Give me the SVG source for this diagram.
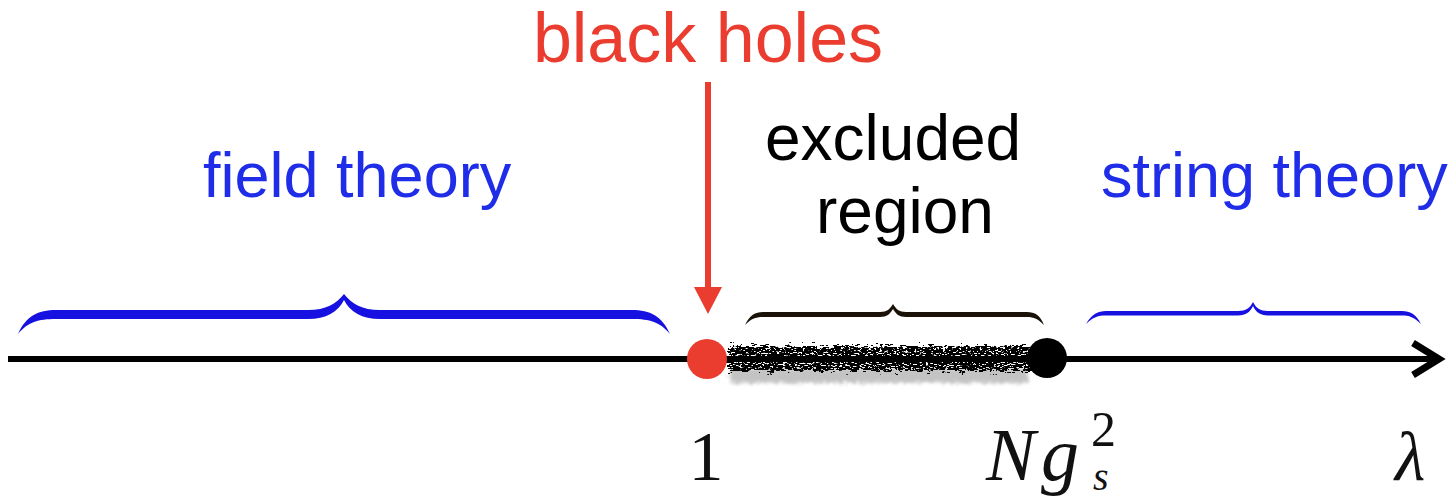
<svg xmlns="http://www.w3.org/2000/svg" width="1456" height="501" viewBox="0 0 1456 501">
<style>
.sans{font-family:"Liberation Sans","Helvetica Neue",Arial,sans-serif;}
.math{font-family:"Liberation Serif","Times New Roman",serif;fill:#111;}
.blue{fill:#1f2de8;}
.red{fill:#ea3d30;}
</style>
<defs>
<filter id="grit" x="-5%" y="-60%" width="110%" height="220%">
<feTurbulence type="fractalNoise" baseFrequency="0.12 0.5" numOctaves="3" seed="7" result="noise"/>
<feDisplacementMap in="SourceGraphic" in2="noise" scale="14" xChannelSelector="R" yChannelSelector="G" result="disp"/>
<feTurbulence type="fractalNoise" baseFrequency="0.35 0.9" numOctaves="2" seed="11" result="n2"/>
<feColorMatrix in="n2" type="matrix" values="0 0 0 0 1  0 0 0 0 1  0 0 0 0 1  0 0 0 14 -8.0" result="holes"/>
<feComposite in="disp" in2="holes" operator="out"/>
</filter>
<filter id="haze" x="-5%" y="-100%" width="110%" height="300%">
<feTurbulence type="fractalNoise" baseFrequency="0.3 0.7" numOctaves="2" seed="3" result="n"/>
<feDisplacementMap in="SourceGraphic" in2="n" scale="10" xChannelSelector="R" yChannelSelector="G" result="d"/>
<feGaussianBlur in="d" stdDeviation="1.5"/>
</filter>
</defs>

<g id="connectors">
<line x1="8" y1="359" x2="1436" y2="359" stroke="#000" stroke-width="6"/>
<polyline points="1413,343 1439,359 1413,375" fill="none" stroke="#000" stroke-width="7"/>
<line x1="708" y1="82" x2="708" y2="290" stroke="#ea3d30" stroke-width="6"/>
<polygon points="694,287 722,287 708,314" fill="#ea3d30"/>
</g>

<g id="excluded-band">
<rect x="730" y="368" width="298" height="15" fill="#888" opacity="0.5" filter="url(#haze)"/>
<rect x="728" y="346" width="302" height="25" fill="#000" filter="url(#grit)"/>
</g>

<g id="brace-field">
<path d="M18,334 C26,316 38,310 56,310 L308,310 C326,310 336,304 344,294 C352,304 362,310 380,310 L632,310 C650,310 662,316 670,334 C660,322 650,319 632,319 L380,319 C362,319 350,312 344,300 C338,312 326,319 308,319 L56,319 C38,319 28,322 18,334 Z" fill="#1611e0"/>
</g>

<g id="brace-excluded">
<path d="M745,325 C750,315 755,312 763,312 L880,312 C887,312 890,309 893,304 C896,309 899,312 906,312 L1027,312 C1035,312 1040,315 1044,325 C1038,319 1034,317 1027,317 L906,317 C899,317 896,314 893,309 C890,314 887,317 880,317 L763,317 C755,317 751,319 745,325 Z" fill="#1a1208"/>
</g>

<g id="brace-string">
<path d="M1086,324 C1092,314 1098,311 1106,311 L1238,311 C1246,311 1250,308 1253,302 C1256,308 1260,311 1268,311 L1402,311 C1410,311 1416,314 1421,324 C1414,317 1409,315.5 1402,315.5 L1268,315.5 C1260,315.5 1256,312 1253,306 C1250,312 1246,315.5 1238,315.5 L1106,315.5 C1098,315.5 1093,317 1086,324 Z" fill="#1611e0"/>
</g>

<g id="node-blackholes">
<circle cx="707" cy="359" r="20" fill="#ea3d30"/>
<text class="sans red" x="708" y="62" font-size="70" text-anchor="middle">black holes</text>
</g>

<g id="node-ngs2">
<circle cx="1047" cy="358" r="20" fill="#000"/>
</g>

<g id="label-field">
<text class="sans blue" x="203" y="197" font-size="63">field theory</text>
</g>

<g id="label-excluded">
<text class="sans" x="765" y="160" font-size="64" fill="#000">excluded</text>
<text class="sans" x="816" y="233" font-size="64" fill="#000">region</text>
</g>

<g id="label-string">
<text class="sans blue" x="1101" y="197" font-size="63">string theory</text>
</g>

<g id="axis-labels">
<text class="math" x="706" y="480" font-size="70" text-anchor="middle">1</text>
<text class="math" x="986" y="480" font-size="74" font-style="italic">N</text>
<text class="math" x="1041" y="480" font-size="76" font-style="italic">g</text>
<text class="math" x="1091" y="446" font-size="50">2</text>
<text class="math" x="1093" y="490" font-size="40" font-style="italic">s</text>
<text class="math" x="1395" y="480" font-size="70" font-style="italic">λ</text>
</g>
</svg>
